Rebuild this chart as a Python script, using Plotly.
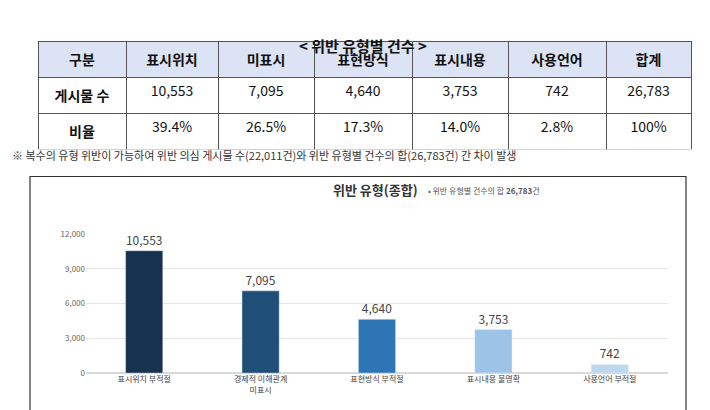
import plotly.graph_objects as go

# table data
headers = ['구분', '표시위치', '미표시', '표현방식', '표시내용', '사용언어', '합계']
row_labels = ['게시물 수', '비율']
counts_txt = ['10,553', '7,095', '4,640', '3,753', '742', '26,783']
ratios_txt = ['39.4%', '26.5%', '17.3%', '14.0%', '2.8%', '100%']

# chart data
categories = ['표시위치 부적절', '경제적 이해관계<br>미표시', '표현방식 부적절', '표시내용 불명확', '사용언어 부적절']
values = [10553, 7095, 4640, 3753, 742]
colors = ['#17324f', '#1f4e79', '#2e75b6', '#9dc3e6', '#bdd7ee']

FONT = 'Noto Sans CJK KR'

cols = [['<b>%s</b>' % r for r in row_labels]] + [[c, r] for c, r in zip(counts_txt, ratios_txt)]

table = go.Table(
    domain=dict(x=[30/710, 683/710], y=[1-140/410, 1-28/410]),
    columnwidth=[88, 92, 96, 98, 96, 98, 85],
    header=dict(values=['<b>%s</b>' % h for h in headers], fill_color='#dce3f4',
                line=dict(color='#555', width=1), align='center', height=29,
                font=dict(family=FONT, size=14, color='#111')),
    cells=dict(values=cols, fill_color='white', line=dict(color='#555', width=1),
               align='center', height=29,
               font=dict(family=FONT, size=14, color='#111')),
)

bar = go.Bar(x=categories, y=values, marker_color=colors,
             text=['{:,}'.format(v) for v in values], textposition='outside',
             textfont=dict(family=FONT, size=12, color='#444'), cliponaxis=False)

fig = go.Figure([table, bar])
fig.update_layout(
    width=710, height=410, margin=dict(l=0, r=0, t=0, b=0),
    paper_bgcolor='white', plot_bgcolor='white', showlegend=False,
    font=dict(family=FONT), bargap=0.68,
    xaxis=dict(domain=[78/710, 660/710], tickfont=dict(size=8, color='#444'),
               showline=False, ticks=''),
    yaxis=dict(domain=[1-369/410, 1-226/410], range=[0, 12000], dtick=3000,
               tickformat=',', tickfont=dict(size=8, color='#666'),
               gridcolor='#e6e6e6', zeroline=True, zerolinecolor='#d9d9d9'),
    shapes=[dict(type='rect', xref='paper', yref='paper', x0=22/710, x1=678/710,
                 y0=2/410, y1=1-167/410, line=dict(color='#333', width=1.2))],
    annotations=[
        dict(text='<b>&lt; 위반 유형별 건수 &gt;</b>', x=0.5, y=1-20/410, xref='paper', yref='paper',
             showarrow=False, font=dict(size=15, color='#111')),
        dict(text='※ 복수의 유형 위반이 가능하여 위반 의심 게시물 수(22,011건)와 위반 유형별 건수의 합(26,783건) 간 차이 발생',
             x=2/710, y=1-145/410, xref='paper', yref='paper', xanchor='left',
             showarrow=False, font=dict(size=11, color='#333')),
        dict(text='<b>위반 유형(종합)</b>', x=412/710, y=1-180/410, xref='paper', yref='paper',
             xanchor='right', showarrow=False, font=dict(size=13, color='#333')),
        dict(text='• 위반 유형별 건수의 합 <b>26,783</b>건', x=418/710, y=1-181/410, xref='paper', yref='paper',
             xanchor='left', showarrow=False, font=dict(size=8, color='#555')),
    ],
)
fig.write_html('out.html')
